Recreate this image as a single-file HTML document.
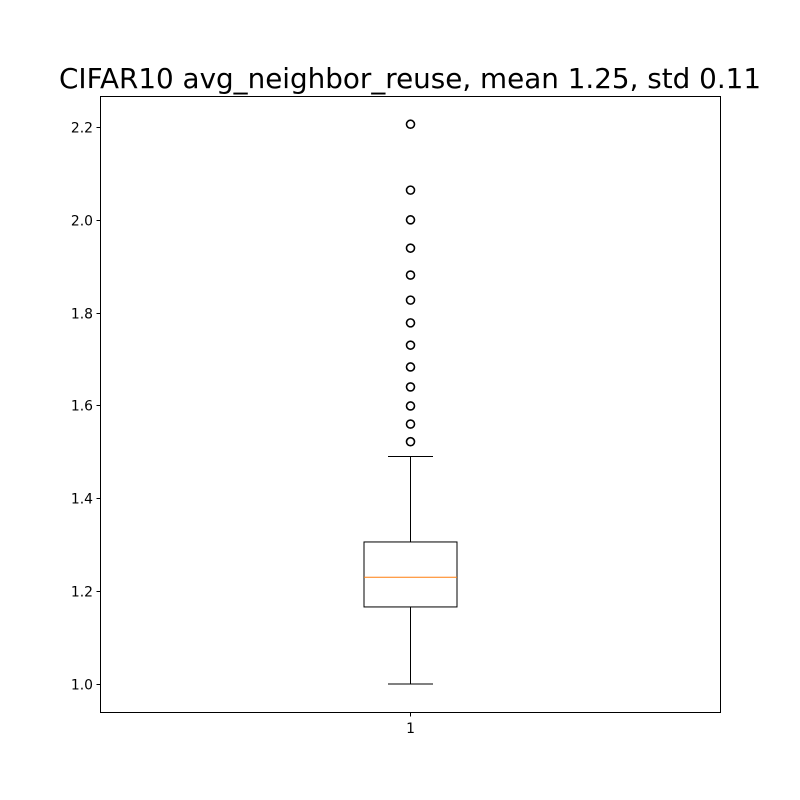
<!DOCTYPE html>
<html><head><meta charset="utf-8">
<style>
html,body{margin:0;padding:0;background:#fff;}
svg{display:block;font-family:"DejaVu Sans","Liberation Sans",sans-serif;}
</style></head>
<body>
<svg id="chart" width="800" height="800" viewBox="0 0 800 800">
<rect width="800" height="800" fill="#fff"/>
<text x="410" y="88" font-size="27.8" text-anchor="middle">CIFAR10 avg_neighbor_reuse, mean 1.25, std 0.11</text>
<g id="plot"></g>
<rect x="100.5" y="96.5" width="620" height="616" fill="none" stroke="#000" stroke-width="1"/>
</svg>
<script>
const yTicks = [1.0, 1.2, 1.4, 1.6, 1.8, 2.0, 2.2];
const yTickLabels = ["1.0", "1.2", "1.4", "1.6", "1.8", "2.0", "2.2"];
const categories = ["1"];
const boxStats = [1.0, 1.166, 1.23, 1.306, 1.49]; // whisker low, q1, median, q3, whisker high
const outliers = [1.522, 1.56, 1.599, 1.64, 1.683, 1.73, 1.778, 1.827, 1.881, 1.939, 2.0, 2.064, 2.206];

const NS = "http://www.w3.org/2000/svg";
const g = document.getElementById('plot');
function y(v){ return 684 - (v - 1.0) * (557 / 1.2); }
function x(i){ return 410.5; }
function el(tag, attrs){ const e = document.createElementNS(NS, tag); for (const k in attrs) e.setAttribute(k, attrs[k]); g.appendChild(e); return e; }

yTicks.forEach((t, i) => {
  const yy = Math.round(y(t)) + 0.5;
  const tk = el('line', {x1: 96.5, x2: 100.5, y1: yy, y2: yy, stroke: '#000'});
  
  
  const lb = el('text', {x: 93, y: yy + 5, 'font-size': 13.9, 'text-anchor': 'end'});
  lb.textContent = yTickLabels[i];
  
  
});

categories.forEach((c, i) => {
  const cx = x(i);
  const tk = el('line', {x1: cx, x2: cx, y1: 712.5, y2: 716.5, stroke: '#000'});
  
  
  const lb = el('text', {x: cx, y: 733, 'font-size': 13.9, 'text-anchor': 'middle'});
  lb.textContent = c;
  
  

  const [lo, q1, med, q3, hi] = boxStats;
  const bw = 93, cw = 45;
  const w1 = el('line', {x1: cx, x2: cx, y1: y(q1), y2: y(lo), stroke: '#000'});
  
  
  const w2 = el('line', {x1: cx, x2: cx, y1: y(q3), y2: y(hi), stroke: '#000'});
  
  
  const c1 = el('line', {x1: cx - cw/2, x2: cx + cw/2, y1: y(lo), y2: y(lo), stroke: '#000'});
  
  
  const c2 = el('line', {x1: cx - cw/2, x2: cx + cw/2, y1: y(hi), y2: y(hi), stroke: '#000'});
  
  
  const bx = el('rect', {x: cx - bw/2, y: y(q3), width: bw, height: y(q1) - y(q3), fill: 'none', stroke: '#000'});
  
  
  const md = el('line', {x1: cx - bw/2, x2: cx + bw/2, y1: y(med), y2: y(med), stroke: '#ff7f0e'});
  
  

  outliers.forEach(v => {
    const o = el('circle', {cx: cx, cy: y(v), r: 4, fill: 'none', stroke: '#000', 'stroke-width': 1.6});
    
    
  });
});
</script>
</body></html>
